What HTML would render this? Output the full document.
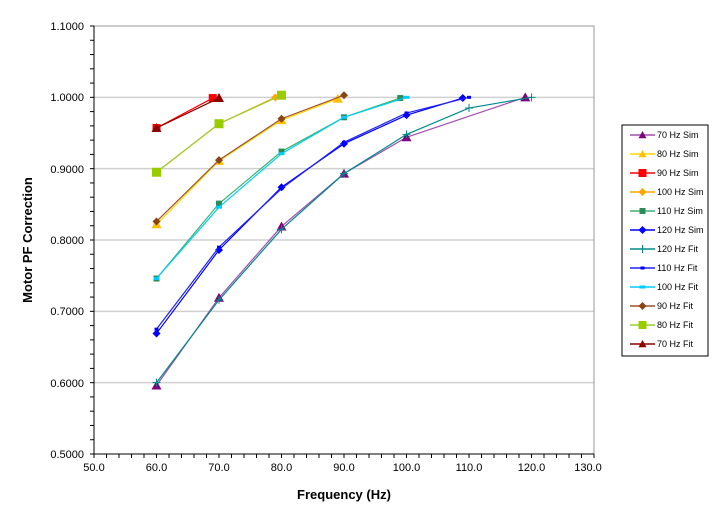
<!DOCTYPE html><html><head><style>body{margin:0;background:#fff}svg{display:block}text{font-family:"Liberation Sans",Arial,sans-serif}</style></head><body>
<svg id="s" width="722" height="528" xmlns="http://www.w3.org/2000/svg">
<rect x="0" y="0" width="722" height="528" fill="#fff"/>
<g id="grid" stroke="#d0d0d0" stroke-width="1.5"></g>
<rect x="94" y="26" width="500" height="428" fill="none" stroke="#999" stroke-width="1"/>
<line x1="94" y1="26" x2="94" y2="454" stroke="#000"/>
<line x1="94" y1="454" x2="594" y2="454" stroke="#000"/>
<g id="ticks" stroke="#000"></g>
<g font-size="11" text-anchor="end" fill="#000">
<text x="84" y="30">1.1000</text><text x="84" y="101">1.0000</text><text x="84" y="173">0.9000</text><text x="84" y="244">0.8000</text><text x="84" y="315">0.7000</text><text x="84" y="387">0.6000</text><text x="84" y="458">0.5000</text>
</g>
<g font-size="11" text-anchor="middle" fill="#000">
<text x="94" y="471">50.0</text><text x="156.5" y="471">60.0</text><text x="219" y="471">70.0</text><text x="281.5" y="471">80.0</text><text x="344" y="471">90.0</text><text x="406.5" y="471">100.0</text><text x="469" y="471">110.0</text><text x="531.5" y="471">120.0</text><text x="588" y="471">130.0</text>
</g>
<text x="344" y="499" font-size="13" font-weight="bold" text-anchor="middle">Frequency (Hz)</text>
<text transform="translate(32,240) rotate(-90)" font-size="13" font-weight="bold" text-anchor="middle">Motor PF Correction</text>
<g id="series"></g>
<rect x="622" y="125" width="86" height="231" fill="#fff" stroke="#000"/>
<g id="leg"></g>
<g font-size="9" fill="#000">
<text x="657" y="138">70 Hz Sim</text><text x="657" y="157">80 Hz Sim</text><text x="657" y="176">90 Hz Sim</text><text x="657" y="195">100 Hz Sim</text><text x="657" y="214">110 Hz Sim</text><text x="657" y="233">120 Hz Sim</text><text x="657" y="252">120 Hz Fit</text><text x="657" y="271">110 Hz Fit</text><text x="657" y="290">100 Hz Fit</text><text x="657" y="309">90 Hz Fit</text><text x="657" y="328">80 Hz Fit</text><text x="657" y="347">70 Hz Fit</text>
</g>
</svg>
<script>
const NS="http://www.w3.org/2000/svg";
const X=f=>94+(f-50)*6.25, Y=v=>26+(1.1-v)*713.33;
function el(p,t,a){const e=document.createElementNS(NS,t);for(const k in a)e.setAttribute(k,a[k]);document.getElementById(p).appendChild(e);return e;}
for(let v=0.6;v<1.05;v+=0.1)el("grid","line",{x1:94,x2:594,y1:Y(v),y2:Y(v)});
for(let i=0;i<=30;i++){const y=26+i*428/30;el("ticks","line",{x1:90,x2:94,y1:y,y2:y});}
for(let i=0;i<=40;i++){const x=94+i*12.5;el("ticks","line",{x1:x,x2:x,y1:454,y2:458});}
function mk(p,type,x,y,c,s){
 if(type=="tri")el(p,"polygon",{points:`${x},${y-s} ${x-s},${y+s*0.8} ${x+s},${y+s*0.8}`,fill:c});
 else if(type=="sq")el(p,"rect",{x:x-s,y:y-s,width:2*s,height:2*s,fill:c});
 else if(type=="dia")el(p,"polygon",{points:`${x},${y-s} ${x+s},${y} ${x},${y+s} ${x-s},${y}`,fill:c});
 else if(type=="plus"){el(p,"line",{x1:x-s,x2:x+s,y1:y,y2:y,stroke:c});el(p,"line",{x1:x,x2:x,y1:y-s,y2:y+s,stroke:c});}
 else if(type=="dash")el(p,"rect",{x:x-s,y:y-1.5,width:2*s,height:3,fill:c});
}
const S=[
["#a050b0","#800080","tri",5,[[60,.596],[70,.719],[80,.819],[90,.893],[100,.944],[119,1.0]]],
["#ffd700","#ffc000","tri",5,[[60,.822],[70,.911],[80,.968],[89,.998]]],
["#ff0000","#ff0000","sq",4,[[60,.957],[69,.999]]],
["#ffa500","#ffa500","dia",4,[[60,.895],[70,.963],[79,1.0]]],
["#3cb371","#2e8b57","sq",3,[[60,.746],[70,.851],[80,.924],[90,.972],[99,.999]]],
["#0000ff","#0000ff","dia",4,[[60,.669],[70,.786],[80,.874],[90,.935],[100,.975],[109,.999]]],
["#008b8b","#008b8b","plus",4,[[60,.600],[70,.716],[80,.815],[90,.893],[100,.948],[110,.985],[120,1.0]]],
["#2020ff","#0000ff","dash",2,[[60,.675],[70,.790],[80,.872],[90,.937],[100,.978],[110,1.0]]],
["#00ccff","#00ccff","dash",3,[[60,.746],[70,.846],[80,.921],[90,.972],[100,1.0]]],
["#a0522d","#8b4513","dia",4,[[60,.826],[70,.912],[80,.970],[90,1.003]]],
["#9acd32","#99cc00","sq",4.5,[[60,.895],[70,.963],[80,1.003]]],
["#8b0000","#8b0000","tri",5,[[60,.957],[70,.999]]]];
S.forEach((s,i)=>{
 el("series","polyline",{points:s[4].map(p=>X(p[0])+","+Y(p[1])).join(" "),fill:"none",stroke:s[0],"stroke-width":1.2});
 s[4].forEach(p=>mk("series",s[2],X(p[0]),Y(p[1]),s[1],s[3]));
 const y=135+i*19;
 el("leg","line",{x1:630,x2:655,y1:y,y2:y,stroke:s[0],"stroke-width":1.5});
 mk("leg",s[2],642.5,y,s[1],Math.min(s[3],4));
});
</script>
</body></html>
